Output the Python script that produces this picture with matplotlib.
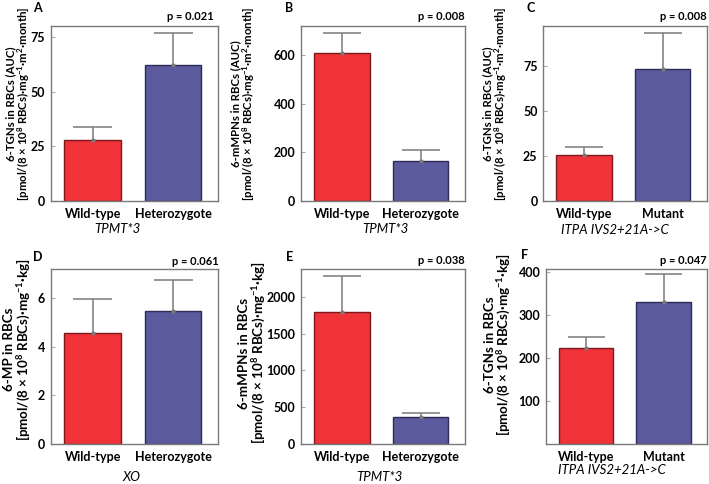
import matplotlib
matplotlib.use("Agg")
import matplotlib.pyplot as plt
import numpy as np

plt.rcParams['font.family'] = ['Lato', 'DejaVu Sans']
plt.rcParams['font.weight'] = 'bold'
plt.rcParams['mathtext.fontset'] = 'custom'
plt.rcParams['mathtext.rm'] = 'Lato:bold'
plt.rcParams['mathtext.bf'] = 'Lato:bold'
plt.rcParams['mathtext.it'] = 'Lato:bold:italic'
plt.rcParams['mathtext.sf'] = 'Lato:bold'

# ---- data ----
letters = ["A", "B", "C", "D", "E", "F"]
groups = [["Wild-type", "Heterozygote"], ["Wild-type", "Heterozygote"], ["Wild-type", "Mutant"],
          ["Wild-type", "Heterozygote"], ["Wild-type", "Heterozygote"], ["Wild-type", "Mutant"]]
means = [[27.7, 62.2], [609, 164], [25.6, 73.1],
         [4.55, 5.46], [1789, 371], [224, 331]]
errs = [[6.3, 14.7], [82, 45], [4.6, 20.0],
        [1.42, 1.27], [498, 54], [25.5, 65]]
pvals = ["p = 0.021", "p = 0.008", "p = 0.008", "p = 0.061", "p = 0.038", "p = 0.047"]
genes = ["TPMT*3", "TPMT*3", "ITPA IVS2+21A->C", "XO", "TPMT*3", "ITPA IVS2+21A->C"]
unit_auc = r"[pmol/(8 × 10$^{8}$ RBCs)·mg$^{-1}$·m$^{2}$·month]"
unit_kg = r"[pmol/(8 × 10$^{8}$ RBCs)·mg$^{-1}$·kg]"
ylabels = ["6-TGNs in RBCs (AUC)\n" + unit_auc, "6-mMPNs in RBCs (AUC)\n" + unit_auc,
           "6-TGNs in RBCs (AUC)\n" + unit_auc, "6-MP in RBCs\n" + unit_kg,
           "6-mMPNs in RBCs\n" + unit_kg, "6-TGNs in RBCs\n" + unit_kg]
ytops = [80, 720, 97, 7.2, 2380, 408]
yticks = [[0, 25, 50, 75], [0, 200, 400, 600], [0, 25, 50, 75],
          [0, 2, 4, 6], [0, 500, 1000, 1500, 2000], [100, 200, 300, 400]]

# layout (figure fractions)
lefts = [0.0715, 0.4245, 0.766, 0.0715, 0.4245, 0.770]
widths = [0.2364, 0.2313, 0.231, 0.2364, 0.2313, 0.227]
bottoms = [0.5847, 0.5847, 0.5847, 0.0826, 0.0826, 0.0826]
height = 0.3616
ylab_size = [8.2, 8.2, 8.2, 9.6, 9.6, 9.6]
ylab_pos = [(-0.112, 0.555), (-0.27, 0.555), (-0.207, 0.555),
            (-0.112, 0.54), (-0.207, 0.52), (-0.209, 0.57)]
letter_pos = [(-0.08, 1.105), (-0.073, 1.105), (-0.076, 1.105),
              (-0.08, 1.07), (-0.07, 1.07), (-0.135, 1.08)]
p_pos = [(0.97, 1.054), (1.0, 1.057), (1.0, 1.054), (1.0, 1.042), (1.0, 1.05), (1.0, 1.05)]
gene_pos = [(0.40, -0.16), (0.515, -0.16), (0.44, -0.166),
            (0.48, -0.189), (0.48, -0.189), (0.41, -0.149)]

bar_colors = ["#ef3339", "#5b5a9c"]
edge_colors = ["#7a1a1d", "#2d2c55"]
grey = "#7a7a7a"

fig = plt.figure(figsize=(7.09, 4.84), dpi=100)

for i in range(6):
    ax = fig.add_axes([lefts[i], bottoms[i], widths[i], height])
    x = np.arange(len(groups[i]))
    m = np.array(means[i])
    e = np.array(errs[i])
    ax.bar(x, m, width=0.7, color=bar_colors, edgecolor=edge_colors, linewidth=1.0, zorder=2)
    ax.vlines(x, m, m + e, color=grey, linewidth=1.1, zorder=3)
    ax.hlines(m + e, x - 0.24, x + 0.24, color=grey, linewidth=1.1, zorder=3)
    ax.plot(x, m, 'o', color=grey, markersize=2, zorder=4)

    ax.set_xlim(-0.52, 1.56)
    ax.set_ylim(0, ytops[i])
    ax.set_yticks(yticks[i])
    ax.set_yticklabels([str(t) for t in yticks[i]], fontsize=9, fontweight='bold')
    ax.set_xticks(x)
    ax.set_xticklabels(groups[i], fontsize=9, fontweight='bold')
    ax.tick_params(axis='x', length=0, pad=5)
    ax.tick_params(axis='y', direction='in', length=3, width=0.8, color='#aaaaaa', pad=4)
    for sp in ax.spines.values():
        sp.set_color(grey)
        sp.set_linewidth(1.0)

    ax.set_ylabel(ylabels[i], fontsize=ylab_size[i], fontweight='bold', linespacing=0.95)
    ax.yaxis.set_label_coords(ylab_pos[i][0], ylab_pos[i][1])
    ax.text(letter_pos[i][0], letter_pos[i][1], letters[i], transform=ax.transAxes,
            fontsize=9, fontweight='bold', ha='center', va='center')
    ax.text(p_pos[i][0], p_pos[i][1], pvals[i], transform=ax.transAxes,
            fontsize=8, fontweight='bold', ha='right', va='center')
    ax.text(gene_pos[i][0], gene_pos[i][1], genes[i], transform=ax.transAxes,
            fontsize=9.5, fontweight='normal', style='italic', ha='center', va='center')

fig.savefig("out.png", dpi=100)
